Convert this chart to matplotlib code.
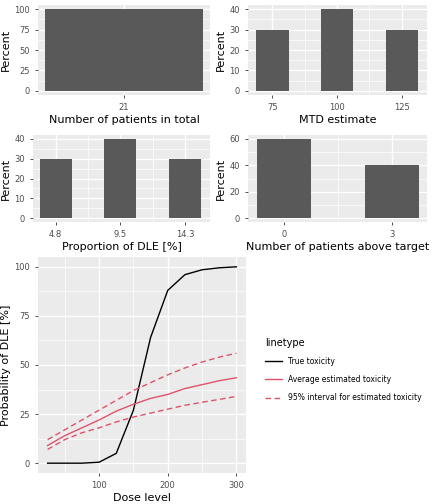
import matplotlib
matplotlib.use("Agg")
import matplotlib.pyplot as plt
from matplotlib.lines import Line2D

n_pat = [21]; n_pat_pct = [100]
mtd = [75, 100, 125]; mtd_pct = [30, 40, 30]
dle = [4.76, 9.52, 14.29]; dle_lab = ["4.8", "9.5", "14.3"]; dle_pct = [30, 40, 30]
above = [0, 3]; above_pct = [60, 40]
dose = [25, 50, 75, 100, 125, 150, 175, 200, 225, 250, 275, 300]
true_tox = [0, 0, 0, 0.5, 5, 27, 64, 88, 96, 98.5, 99.5, 100]
avg_tox = [9, 14, 18, 22, 26.5, 30, 33, 35, 38, 40, 42, 43.5]
upper = [12, 17, 22, 27, 32, 37, 41, 45, 48.5, 51.5, 54, 56]
lower = [7, 12, 15.5, 18, 21, 23.5, 25.5, 27.5, 29.5, 31, 32.5, 34]

W, H = 432, 504
fig = plt.figure(figsize=(W/100, H/100), dpi=100)
GREY = "#EBEBEB"; TXT = "#4D4D4D"

def style(ax, xt, xl, yt, ylab, xlabel, minor_x=None, minor_y=None):
    ax.set_facecolor(GREY)
    for s in ax.spines.values(): s.set_visible(False)
    ax.set_xticks(xt); ax.set_xticklabels(xl)
    ax.set_yticks(yt)
    if minor_x is not None: ax.set_xticks(minor_x, minor=True)
    if minor_y is not None: ax.set_yticks(minor_y, minor=True)
    ax.grid(True, which="major", color="white", lw=1.0)
    ax.grid(True, which="minor", color="white", lw=0.5)
    ax.set_axisbelow(True)
    ax.tick_params(which="major", colors="#333333", labelcolor=TXT, labelsize=6, length=2.5, width=0.6)
    ax.tick_params(which="minor", length=0)
    ax.set_ylabel(ylab, fontsize=8, color="black", labelpad=2)
    ax.set_xlabel(xlabel, fontsize=8, color="black", labelpad=2)

def add(l, t, r, b):
    return fig.add_axes([l/W, 1-b/H, (r-l)/W, (b-t)/H])

BAR = "#595959"
ax = add(38, 5, 210, 95)
ax.bar(n_pat, n_pat_pct, width=0.9, color=BAR)
ax.set_xlim(20.51, 21.49); ax.set_ylim(-5, 105)
style(ax, [21], ["21"], [0, 25, 50, 75, 100], "Percent", "Number of patients in total", minor_y=[12.5, 37.5, 62.5, 87.5])

ax = add(248, 5, 427, 95)
ax.bar(mtd, mtd_pct, width=12.5, color=BAR)
ax.set_xlim(65.6, 134.7); ax.set_ylim(-2, 42)
style(ax, mtd, [str(v) for v in mtd], [0, 10, 20, 30, 40], "Percent", "MTD estimate", minor_x=[87.5, 112.5], minor_y=[5, 15, 25, 35])

ax = add(33, 135, 210, 222)
ax.bar(dle, dle_pct, width=2.35, color=BAR)
ax.set_xlim(3.09, 16.1); ax.set_ylim(-2, 42)
style(ax, dle, dle_lab, [0, 10, 20, 30, 40], "Percent", "Proportion of DLE [%]", minor_x=[7.14, 11.9], minor_y=[5, 15, 25, 35])

ax = add(248, 135, 427, 222)
ax.bar(above, above_pct, width=1.5, color=BAR)
ax.set_xlim(-0.99, 3.98); ax.set_ylim(-3, 63)
style(ax, above, [str(v) for v in above], [0, 20, 40, 60], "Percent", "Number of patients above target", minor_x=[1.5], minor_y=[10, 30, 50])

RED = "#DF536B"
ax = add(38, 257, 246, 473)
ax.plot(dose, true_tox, color="black", lw=1)
ax.plot(dose, avg_tox, color=RED, lw=1)
ax.plot(dose, upper, color=RED, lw=1, ls=(0, (4, 2.5)))
ax.plot(dose, lower, color=RED, lw=1, ls=(0, (4, 2.5)))
ax.set_xlim(11, 314); ax.set_ylim(-5, 105)
style(ax, [100, 200, 300], ["100", "200", "300"], [0, 25, 50, 75, 100], "Probability of DLE [%]", "Dose level",
      minor_x=[50, 150, 250], minor_y=[12.5, 37.5, 62.5, 87.5])

handles = [Line2D([], [], color="black", lw=1),
           Line2D([], [], color=RED, lw=1),
           Line2D([], [], color=RED, lw=1, ls=(0, (4, 2.5)))]
leg = fig.legend(handles, ["True toxicity", "Average estimated toxicity", "95% interval for estimated toxicity"],
                 title="linetype", loc="center left", bbox_to_anchor=(258/W, 1-370/H), frameon=False,
                 fontsize=5.5, title_fontsize=7, handlelength=2.2, labelspacing=1.2, alignment="left")
fig.savefig("out.png", dpi=100)
